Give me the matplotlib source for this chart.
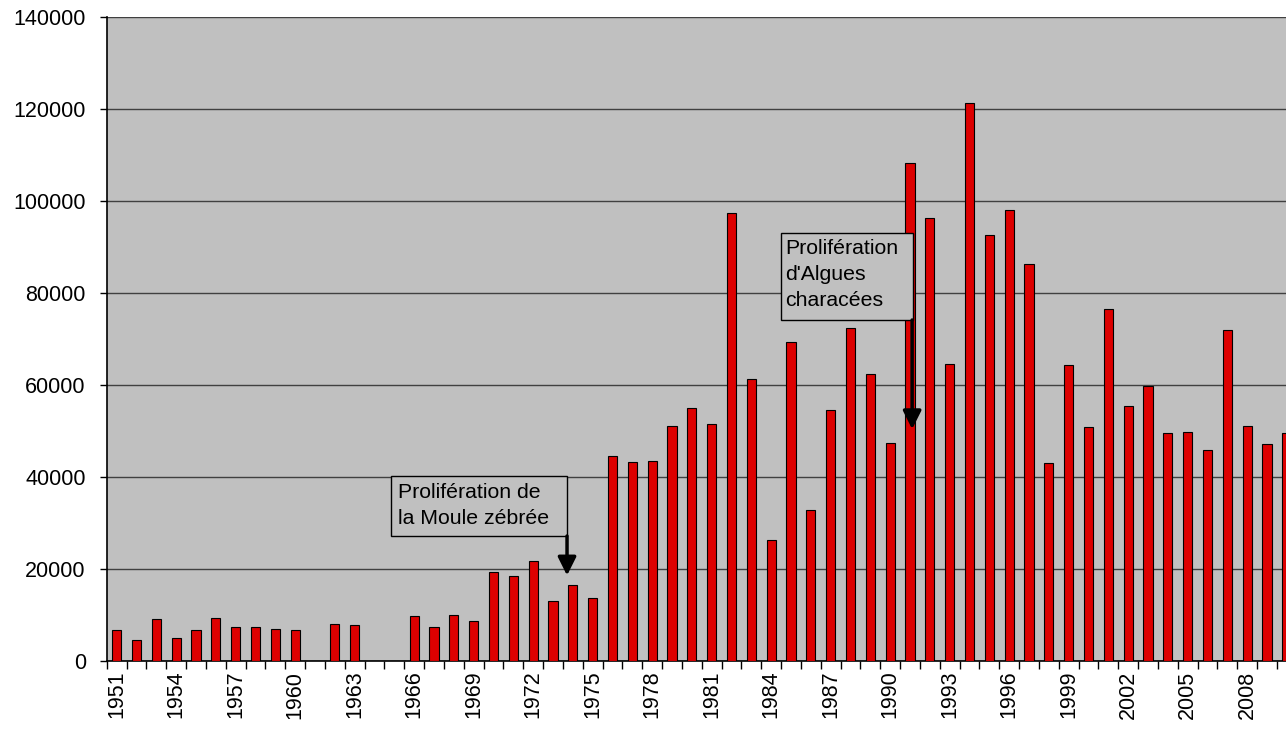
import matplotlib.pyplot as plt
from matplotlib.patches import Rectangle

plt.rcParams['font.family'] = ['Liberation Sans', 'DejaVu Sans']

# years and values
years = list(range(1951, 2011))
values = [6800, 4500, 9200, 5000, 6800, 9400, 7500, 7500, 7000, 6800,
          0, 8000, 7800, 0, 0, 9700, 7300, 9900, 8700, 19400,
          18400, 21800, 13100, 16500, 13800, 44500, 43300, 43500, 51000, 54900,
          51600, 97500, 61300, 26200, 69300, 32800, 54500, 72500, 62500, 47400,
          108200, 96400, 64600, 121200, 92700, 98000, 86400, 43000, 64400, 50800,
          76600, 55400, 59800, 49600, 49800, 45900, 72000, 51000, 47100, 49600]
yticks = [0, 20000, 40000, 60000, 80000, 100000, 120000, 140000]
label_every = 3

note1 = "Prolifération de\nla Moule zébrée"
note2 = "Prolifération\nd'Algues\ncharacées"

fig = plt.figure(figsize=(12.86, 7.34), dpi=100)
W, H = 1286, 734
# plot area runs off the right edge of the picture, as in the reference
ax = fig.add_axes([106.7 / W, 1 - 661 / H, 1190 / W, 644 / H])
ax.set_facecolor('#c0c0c0')

x = list(range(len(years)))
ax.bar(x, values, width=0.46, color='#dd0000', edgecolor='black', linewidth=0.8, zorder=3)

ax.set_xlim(-0.5, len(years) - 0.5)
ax.set_ylim(0, 140000)
ax.set_yticks(yticks)
ax.set_yticklabels([str(v) for v in yticks], fontsize=15.5)
ax.yaxis.grid(True, color='#404040', linewidth=1.0, zorder=1)
ax.tick_params(axis='y', length=5, width=1, pad=10)

# ticks between categories, labels on every third bar
ax.set_xticks([i - 0.5 for i in range(len(years) + 1)])
ax.set_xticklabels([])
ax.tick_params(axis='x', which='major', length=6, width=1)
ax.set_xticks(x[::label_every], minor=True)
ax.set_xticklabels([str(y) for y in years[::label_every]], minor=True,
                   rotation=90, fontsize=15.5)
ax.tick_params(axis='x', which='minor', length=0, pad=7)

for s in ['top', 'right']:
    ax.spines[s].set_visible(False)
ax.spines['left'].set_linewidth(1.2)
ax.spines['bottom'].set_linewidth(1.2)

arrow = dict(arrowstyle='-|>,head_width=0.55,head_length=1.1',
             color='black', lw=2.5, shrinkA=0, shrinkB=0)

# annotation boxes
ax.add_patch(Rectangle((13.84, 27170), 22.71 - 13.84, 40220 - 27170,
                       facecolor='#c0c0c0', edgecolor='black', linewidth=1, zorder=5))
ax.text(14.2, 38700, note1, fontsize=15.3, va='top', ha='left', linespacing=1.45, zorder=6)
ax.annotate('', xy=(22.71, 18600), xytext=(22.71, 27170), arrowprops=arrow, zorder=6)

ax.add_patch(Rectangle((33.48, 74130), 40.15 - 33.48, 93110 - 74130,
                       facecolor='#c0c0c0', edgecolor='black', linewidth=1, zorder=5))
ax.text(33.72, 91700, note2, fontsize=15.3, va='top', ha='left', linespacing=1.45, zorder=6)
ax.annotate('', xy=(40.11, 50400), xytext=(40.11, 74130), arrowprops=arrow, zorder=6)

fig.savefig('out.png', dpi=100)
